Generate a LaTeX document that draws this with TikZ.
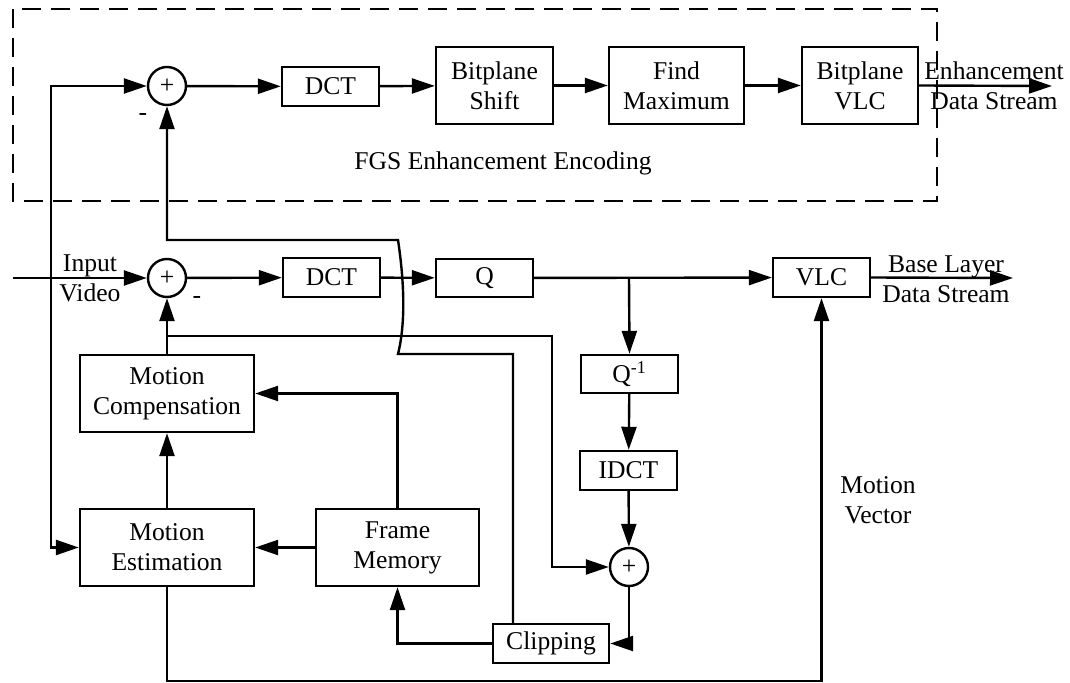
\documentclass[tikz,border=0pt]{standalone}
\usepackage{fontspec}
\setmainfont{Liberation Serif}
\usetikzlibrary{arrows.meta}
\begin{document}
\begin{tikzpicture}[x=0.5pt,y=-0.5pt,
  line width=1.2pt,
  font=\fontsize{12.8}{15}\selectfont,
  arr/.style={-{Triangle[length=11.5pt,width=7.5pt]}},
  blk/.style={draw,inner sep=0pt,align=center,minimum width=#1},
  blk/.default=48.5pt,
  short/.style={minimum height=19.5pt},
  tall/.style={minimum height=38.5pt},
  sumnode/.style={draw,circle,inner sep=0pt,minimum size=19pt},
  lbl/.style={align=center,inner sep=0pt}]
\useasboundingbox (0,0) rectangle (1070,683);

% FGS enhancement layer frame
\draw[dash pattern=on 9.5pt off 5pt] (13,9) rectangle (937,201);
\node[lbl] (fgs) at (503,163) {FGS Enhancement Encoding};

% enhancement layer chain
\node[sumnode] (s1) at (167,86) {+};
\node[blk,short] (dct1) at (330.5,86.5) {DCT};
\node[blk=58.5pt,tall] (bps) at (494.5,85.5) {Bitplane\\Shift};
\node[blk=67.5pt,tall] (fmax) at (676.5,85.5) {Find\\Maximum};
\node[blk=58pt,tall] (bvlc) at (860,85.5) {Bitplane\\VLC};
\coordinate (eout) at (1052,86);
\node[lbl] (elbl) at (994,86) {Enhancement\\Data Stream};

% base layer chain
\node[sumnode] (s2) at (167,278) {+};
\node[blk,short] (dct2) at (331.5,277.5) {DCT};
\node[blk,minimum height=19pt] (q) at (484.5,278) {Q};
\node[blk,short] (vlc) at (821.5,277.5) {VLC};
\coordinate (bout) at (1013,278);
\node[lbl] (blbl) at (946,279) {Base Layer\\Data Stream};

% reconstruction loop
\node[blk,minimum height=19pt] (qinv) at (629.5,374) {Q\textsuperscript{-1}};
\node[blk,short] (idct) at (628.5,470.5) {IDCT};
\node[sumnode] (s3) at (629,567) {+};
\node[blk=58pt,short] (clip) at (551,643.5) {Clipping};
\node[blk=87pt,tall] (mc) at (167,393.5) {Motion\\Compensation};
\node[blk=87pt,tall] (me) at (167,547.5) {Motion\\Estimation};
\node[blk=81.5pt,tall] (fm) at (397.5,547.5) {Frame\\Memory};

% input
\coordinate (in) at (13,278);
\coordinate (split) at (51,278);
\node[lbl] (inlbl) at (90,278) {Input\\Video};
\node[lbl] (m1) at (143,117) {-};
\node[lbl] (m2) at (197,300) {-};
\node[lbl] (mvlbl) at (878,500) {Motion\\Vector};

% connectors: enhancement layer
\draw[arr] (in) -- (s2.west);
\draw[arr] (split) |- (s1.west);
\draw[arr] (split) |- (me.west);
\draw[arr] (s1) -- (dct1);
\draw[arr] (dct1) -- (bps);
\draw[arr] (bps) -- (fmax);
\draw[arr] (fmax) -- (bvlc);
\draw[arr] (bvlc.east) -- (eout);

% connectors: base layer
\draw[arr] (s2) -- (dct2);
\draw[arr] (dct2) -- (q);
\draw[arr] (q) -- (vlc);
\draw[arr] (vlc.east) -- (bout);
\coordinate (qb) at (629,278);
\draw[arr] (qb) -- (qinv.north);
\draw[arr] (qinv) -- (idct);
\draw[arr] (idct) -- (s3);

% motion compensated prediction
\coordinate (mcb) at (167,336);
\draw[arr] (mcb) -| (552,450) |- (s3.west);
\draw[arr] (mc.north) -- (s2.south);
\draw[arr] (me.north) -- (mc.south);
\draw[arr] (fm.west) -- (me.east);
\draw[arr] (fm.north) |- (mc.east);
\draw[arr] (s3.south) |- (clip.east);
\draw[arr] (clip.west) -| (fm.south);

% reconstructed frame back to the enhancement adder
\coordinate (ct) at (513,354);
\draw[arr] (clip.north -| ct) -- (ct) -- (398,354)
  .. controls (406,322) and (404,280) .. (398,240) -| (s1.south);

% motion vectors to the VLC
\draw[arr] (me.south) -- (167,681) -| (vlc.south);
\end{tikzpicture}
\end{document}
